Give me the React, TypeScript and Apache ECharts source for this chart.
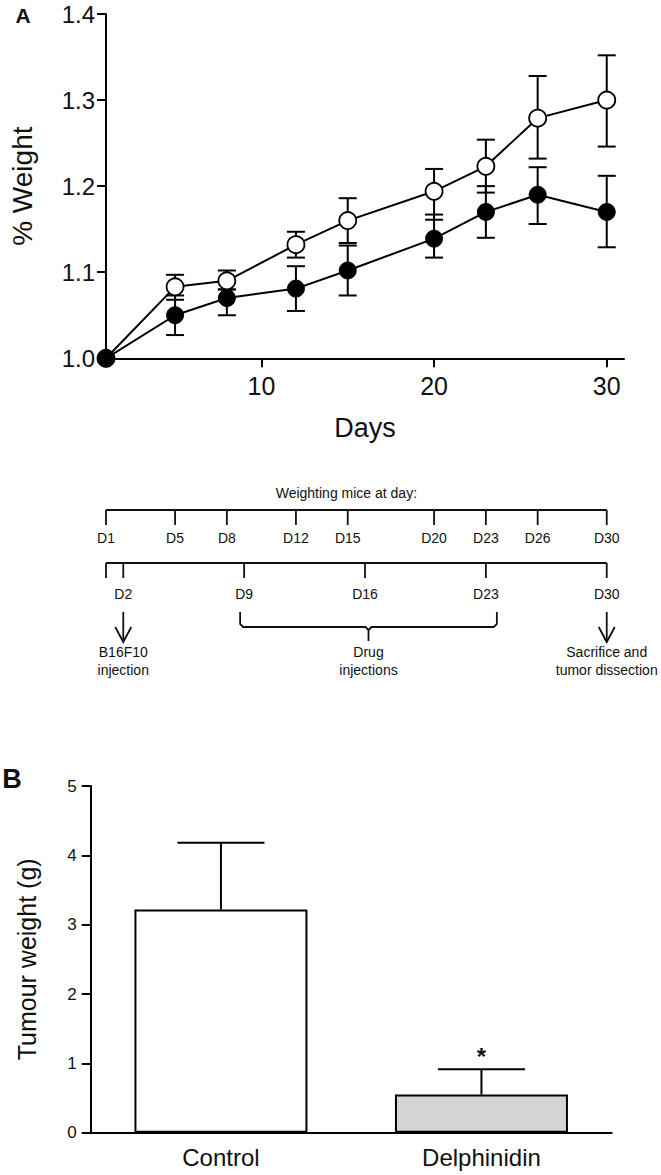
import React, { useEffect, useRef } from "react";
import * as echarts from "echarts";

const FONT = "'Liberation Sans', Arial, Helvetica, sans-serif";
const INK = "#111";

// ---------- Panel A: % weight over days ----------
const days = [1, 5, 8, 12, 15, 20, 23, 26, 30];
const openMean = [1.0, 1.083, 1.09, 1.132, 1.16, 1.194, 1.223, 1.279, 1.3];
const openLow = [1.0, 1.068, 1.08, 1.117, 1.134, 1.161, 1.1925, 1.232, 1.246];
const openHigh = [1.0, 1.097, 1.102, 1.147, 1.186, 1.22, 1.254, 1.328, 1.352];
const filledMean = [1.0, 1.05, 1.07, 1.081, 1.102, 1.139, 1.17, 1.19, 1.17];
const filledLow = [1.0, 1.027, 1.05, 1.055, 1.073, 1.117, 1.14, 1.156, 1.129];
const filledHigh = [1.0, 1.073, 1.08, 1.107, 1.131, 1.167, 1.2, 1.222, 1.212];
const dayTicks = [10, 20, 30];

// ---------- Timeline ----------
const weighingDays = [1, 5, 8, 12, 15, 20, 23, 26, 30];
const scheduleDays = [1, 2, 9, 16, 23, 30];
const scheduleLabelled = [2, 9, 16, 23, 30];
const tumourInjectionDay = 2;
const drugPeriod = [9, 23];
const sacrificeDay = 30;

// ---------- Panel B: tumour weight ----------
const groups = ["Control", "Delphinidin"];
const tumourMean = [3.22, 0.55];
const tumourErr = [0.96, 0.365];
const tumourMark = ["", "*"];
const barColors = ["#ffffff", "#d4d4d4"];

function errorSeries(low: number[], high: number[], z: number) {
  return {
    type: "custom",
    xAxisIndex: 0,
    yAxisIndex: 0,
    z,
    silent: true,
    data: days.map((d, i) => [d, low[i], high[i]]),
    encode: { x: 0, y: [1, 2] },
    renderItem: (_p: any, api: any) => {
      const x = api.value(0);
      const lo = api.value(1);
      const hi = api.value(2);
      if (lo === hi) return { type: "group", children: [] };
      const a = api.coord([x, lo]);
      const b = api.coord([x, hi]);
      const hw = 9;
      const st = { stroke: "#000", lineWidth: 2 };
      return {
        type: "group",
        children: [
          { type: "line", shape: { x1: a[0], y1: a[1], x2: b[0], y2: b[1] }, style: st },
          { type: "line", shape: { x1: a[0] - hw, y1: a[1], x2: a[0] + hw, y2: a[1] }, style: st },
          { type: "line", shape: { x1: b[0] - hw, y1: b[1], x2: b[0] + hw, y2: b[1] }, style: st },
        ],
      };
    },
  };
}

export default function App() {
  const ref = useRef<HTMLDivElement>(null);

  useEffect(() => {
    document.body.style.margin = "0";
    const chart = echarts.init(ref.current!, undefined, { renderer: "svg" });
    const axisLine = { show: true, lineStyle: { color: "#000", width: 2 } };

    const option: any = {
      animation: false,
      backgroundColor: "#fff",
      textStyle: { fontFamily: FONT, color: INK },
      grid: [
        { left: 106, top: 14, width: 518, height: 344.3 },
        { left: 90.7, top: 786, width: 521, height: 346.7 },
      ],
      xAxis: [
        {
          gridIndex: 0,
          type: "value",
          min: 1,
          max: 31,
          axisLine,
          axisTick: { show: true, customValues: dayTicks, length: 9, lineStyle: { color: "#000", width: 2 } },
          axisLabel: { customValues: dayTicks, fontSize: 25, color: INK, margin: 15, fontFamily: FONT },
          splitLine: { show: false },
          name: "Days",
          nameLocation: "middle",
          nameGap: 56,
          nameTextStyle: { fontSize: 27, color: INK, fontFamily: FONT },
        },
        {
          gridIndex: 1,
          type: "category",
          data: groups,
          axisLine,
          axisTick: { show: false },
          axisLabel: { fontSize: 24, color: INK, margin: 13, fontFamily: FONT },
          splitLine: { show: false },
        },
      ],
      yAxis: [
        {
          gridIndex: 0,
          type: "value",
          min: 1.0,
          max: 1.4,
          interval: 0.1,
          axisLine,
          axisTick: { show: true, length: 9, lineStyle: { color: "#000", width: 2 } },
          axisLabel: {
            fontSize: 24,
            color: INK,
            margin: 11,
            fontFamily: FONT,
            formatter: (v: number) => v.toFixed(1),
          },
          splitLine: { show: false },
          name: "% Weight",
          nameLocation: "middle",
          nameGap: 70,
          nameTextStyle: { fontSize: 28, color: INK, fontFamily: FONT },
        },
        {
          gridIndex: 1,
          type: "value",
          min: 0,
          max: 5,
          interval: 1,
          axisLine,
          axisTick: { show: true, length: 9, lineStyle: { color: "#000", width: 2 } },
          axisLabel: { fontSize: 17, color: INK, margin: 14, fontFamily: FONT },
          splitLine: { show: false },
          name: "Tumour weight (g)",
          nameLocation: "middle",
          nameGap: 51,
          nameTextStyle: { fontSize: 25, color: INK, fontFamily: FONT },
        },
      ],
      series: [
        errorSeries(openLow, openHigh, 1),
        errorSeries(filledLow, filledHigh, 1),
        {
          type: "line",
          xAxisIndex: 0,
          yAxisIndex: 0,
          z: 3,
          data: days.map((d, i) => [d, openMean[i]]),
          symbol: "circle",
          symbolSize: 17,
          showAllSymbol: true,
          lineStyle: { color: "#000", width: 2 },
          itemStyle: { color: "#fff", borderColor: "#000", borderWidth: 1.8 },
        },
        {
          type: "line",
          xAxisIndex: 0,
          yAxisIndex: 0,
          z: 4,
          data: days.map((d, i) => [d, filledMean[i]]),
          symbol: "circle",
          symbolSize: 17,
          showAllSymbol: true,
          lineStyle: { color: "#000", width: 2 },
          itemStyle: { color: "#000", borderColor: "#000", borderWidth: 1 },
        },
        {
          type: "bar",
          xAxisIndex: 1,
          yAxisIndex: 1,
          barWidth: 173,
          data: tumourMean.map((v, i) => ({
            value: v,
            itemStyle: { color: barColors[i], borderColor: "#000", borderWidth: 2 },
          })),
        },
        {
          type: "custom",
          xAxisIndex: 1,
          yAxisIndex: 1,
          z: 5,
          silent: true,
          data: groups.map((_g, i) => [i, tumourMean[i], tumourMean[i] + tumourErr[i]]),
          encode: { x: 0, y: [1, 2] },
          renderItem: (p: any, api: any) => {
            const i = api.value(0);
            const a = api.coord([i, api.value(1)]);
            const b = api.coord([i, api.value(2)]);
            const hw = 43.5;
            const st = { stroke: "#000", lineWidth: 2 };
            const children: any[] = [
              { type: "line", shape: { x1: a[0], y1: a[1], x2: b[0], y2: b[1] }, style: st },
              { type: "line", shape: { x1: b[0] - hw, y1: b[1], x2: b[0] + hw, y2: b[1] }, style: st },
            ];
            const mark = tumourMark[p.dataIndex];
            if (mark) {
              children.push({
                type: "text",
                x: b[0],
                y: b[1] - 1,
                style: {
                  text: mark,
                  font: `bold 24px ${FONT}`,
                  fill: INK,
                  align: "center",
                  verticalAlign: "bottom",
                },
              });
            }
            return { type: "group", children };
          },
        },
      ],
    };
    chart.setOption(option);

    // Timeline drawn on the same day scale as panel A
    const px = (d: number) => chart.convertToPixel({ xAxisIndex: 0 }, d) as number;
    const ln = (x1: number, y1: number, x2: number, y2: number) => ({
      type: "line",
      silent: true,
      shape: { x1, y1, x2, y2 },
      style: { stroke: INK, lineWidth: 1.8 },
    });
    const tx = (text: string, x: number, y: number, size = 14, weight = "normal") => ({
      type: "text",
      silent: true,
      x,
      y,
      style: {
        text,
        font: `${weight} ${size}px ${FONT}`,
        fill: INK,
        align: "center",
        verticalAlign: "middle",
      },
    });
    const arrow = (x: number, y1: number, y2: number) => [
      ln(x, y1, x, y2),
      {
        type: "polyline",
        silent: true,
        shape: { points: [[x - 8, y2 - 15], [x, y2], [x + 8, y2 - 15]] },
        style: { stroke: INK, lineWidth: 1.8, fill: "none" },
      },
    ];

    const first = px(weighingDays[0]);
    const last = px(weighingDays[weighingDays.length - 1]);
    const g: any[] = [];
    g.push(tx("A", 23, 15, 21, "bold"));
    g.push(tx("B", 12, 779, 27, "bold"));
    g.push(tx("Weighting mice at day:", (first + last) / 2 - 10, 493));
    g.push(ln(first, 510, last, 510));
    weighingDays.forEach((d) => {
      g.push(ln(px(d), 510, px(d), 525));
      g.push(tx("D" + d, px(d), 538));
    });
    const s0 = px(scheduleDays[0]);
    const s1 = px(scheduleDays[scheduleDays.length - 1]);
    g.push(ln(s0, 563, s1, 563));
    scheduleDays.forEach((d) => {
      g.push(ln(px(d), 563, px(d), 578));
    });
    scheduleLabelled.forEach((d) => g.push(tx("D" + d, px(d), 594)));

    const xi = px(tumourInjectionDay);
    g.push(...arrow(xi, 612, 642));
    g.push(tx("B16F10", xi, 652));
    g.push(tx("injection", xi, 670));

    const bl = px(drugPeriod[0]) - 4;
    const br = px(drugPeriod[1]) + 11;
    const bm = (bl + br) / 2;
    g.push({
      type: "polyline",
      silent: true,
      shape: {
        points: [[bl, 612], [bl, 624], [bl + 3, 627], [bm - 3, 627], [bm, 630], [bm, 641]],
      },
      style: { stroke: INK, lineWidth: 1.8, fill: "none" },
    });
    g.push({
      type: "polyline",
      silent: true,
      shape: { points: [[bm, 630], [bm + 3, 627], [br - 3, 627], [br, 624], [br, 612]] },
      style: { stroke: INK, lineWidth: 1.8, fill: "none" },
    });
    g.push(tx("Drug", bm, 652));
    g.push(tx("injections", bm, 670));

    const xs = px(sacrificeDay);
    g.push(...arrow(xs, 612, 642));
    g.push(tx("Sacrifice and", xs, 652));
    g.push(tx("tumor dissection", xs, 670));

    chart.setOption({ graphic: g });

    return () => chart.dispose();
  }, []);

  return <div ref={ref} style={{ width: 661, height: 1175 }} />;
}
